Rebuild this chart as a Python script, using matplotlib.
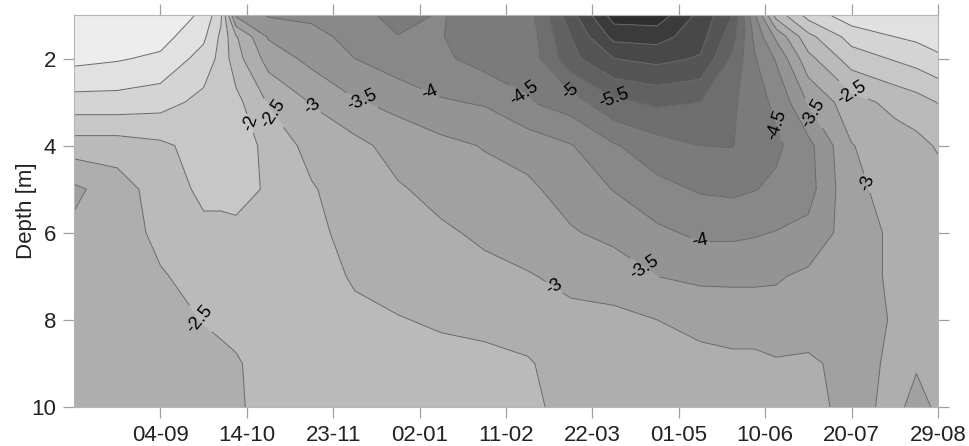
import matplotlib
matplotlib.use("Agg")
import matplotlib.pyplot as plt
import numpy as np
from matplotlib.colors import LinearSegmentedColormap

plt.rcParams['font.family'] = ['Liberation Sans', 'DejaVu Sans']

# days counted from 26-07 (first tick 04-09 = day 40)
days = [0, 20, 40, 60, 68, 75, 90, 110, 130, 150, 170, 190, 210,
        230, 250, 270, 290, 305, 315, 325, 340, 360, 380, 390, 400]
depths = [1, 1.5, 2, 3, 4, 5, 6, 7, 8, 9, 10]

# one profile per day, values at the depths above
profiles = [
    [-0.1, -0.2, -0.35, -1.2, -2.24, -3.1, -2.9, -2.85, -2.8, -2.8, -2.8],
    [-0.1, -0.2, -0.45, -1.2, -2.24, -2.75, -2.8, -2.8, -2.75, -2.75, -2.75],
    [-0.1, -0.3, -0.6, -1.3, -2.1, -2.25, -2.35, -2.55, -2.7, -2.75, -2.75],
    [-0.6, -0.9, -1.2, -1.65, -1.8, -1.9, -2.1, -2.3, -2.48, -2.65, -2.7],
    [-1.4, -1.6, -1.65, -1.7, -1.75, -1.9, -2.1, -2.25, -2.42, -2.6, -2.65],
    [-3.6, -2.45, -2.3, -1.85, -1.8, -1.85, -2.1, -2.2, -2.35, -2.55, -2.58],
    [-4.05, -3.55, -3.2, -2.55, -2.1, -2.05, -2.15, -2.25, -2.3, -2.3, -2.3],
    [-4.1, -3.85, -3.65, -3.03, -2.7, -2.45, -2.35, -2.3, -2.25, -2.2, -2.2],
    [-4.3, -4.15, -4.0, -3.45, -2.85, -2.8, -2.7, -2.55, -2.4, -2.3, -2.25],
    [-4.7, -4.48, -4.3, -3.65, -3.2, -2.95, -2.8, -2.65, -2.48, -2.35, -2.3],
    [-4.45, -4.48, -4.4, -3.95, -3.35, -3.15, -2.93, -2.75, -2.55, -2.38, -2.32],
    [-4.85, -4.75, -4.7, -4.05, -3.53, -3.3, -3.08, -2.88, -2.6, -2.4, -2.35],
    [-4.75, -4.7, -4.65, -4.47, -3.7, -3.4, -3.2, -2.97, -2.75, -2.45, -2.35],
    [-6.3, -6.0, -5.85, -4.75, -3.97, -3.72, -3.45, -3.1, -2.9, -2.75, -2.72],
    [-7.75, -7.15, -6.5, -5.4, -4.45, -4.02, -3.65, -3.2, -2.9, -2.75, -2.7],
    [-7.8, -7.2, -6.65, -5.6, -4.8, -4.35, -3.9, -3.5, -3.0, -2.8, -2.75],
    [-6.85, -6.7, -6.45, -5.5, -5.0, -4.55, -4.1, -3.6, -3.15, -2.85, -2.8],
    [-6.0, -5.7, -5.4, -5.1, -5.02, -4.6, -4.1, -3.6, -3.2, -2.9, -2.8],
    [-4.1, -4.4, -4.55, -4.65, -4.65, -4.52, -4.05, -3.6, -3.2, -2.9, -2.8],
    [-2.3, -3.4, -3.95, -4.42, -4.6, -4.4, -3.98, -3.55, -3.3, -2.95, -2.85],
    [-1.3, -2.15, -2.65, -3.45, -4.15, -4.2, -3.85, -3.4, -3.15, -2.95, -2.9],
    [-0.7, -1.3, -1.75, -2.7, -3.02, -3.1, -3.25, -3.2, -3.15, -3.1, -3.1],
    [-0.6, -1.0, -1.45, -2.35, -2.75, -2.85, -2.9, -2.92, -2.97, -2.95, -2.92],
    [-0.58, -0.9, -1.3, -2.2, -2.65, -2.8, -2.87, -2.9, -2.92, -2.97, -3.1],
    [-0.55, -0.75, -1.1, -1.98, -2.45, -2.7, -2.8, -2.85, -2.85, -2.9, -2.95],
]

tick_days = [40, 80, 120, 160, 200, 240, 280, 320, 360, 400]
tick_labels = ['04-09', '14-10', '23-11', '02-01', '11-02',
               '22-03', '01-05', '10-06', '20-07', '29-08']
depth_ticks = [2, 4, 6, 8, 10]
levels = np.arange(-8, 0.01, 0.5)

# where the contour labels sit (day, depth)
label_spots = [(79, 3.53), (93, 3.23), (111, 3.07), (133, 3.02), (165, 2.77),
               (207, 2.95), (228, 2.84), (250, 2.91), (325, 3.53), (341, 3.30),
               (358, 2.95), (365, 4.90), (290, 6.17), (264, 6.81), (223, 7.20),
               (58, 8.0)]

Z = np.array(profiles).T

greys = LinearSegmentedColormap.from_list('greys', ['#282828', '#f3f3f3'])

fig = plt.figure(figsize=(9.69, 4.46), dpi=100)
ax = fig.add_axes([74 / 969, 39 / 446, 864 / 969, 392 / 446])

ax.contourf(days, depths, Z, levels=levels, cmap=greys)
cs = ax.contour(days, depths, Z, levels=levels, colors='#686868',
                linewidths=0.7, negative_linestyles='solid')
ax.clabel(cs, manual=label_spots, fmt='%g', fontsize=13, colors='k',
          inline=True, inline_spacing=2)

ax.set_xlim(0, 400)
ax.set_ylim(10, 1)
ax.set_xticks(tick_days)
ax.set_xticklabels(tick_labels)
ax.set_yticks(depth_ticks)
ax.set_ylabel('Depth [m]', fontsize=16, color='#222222', labelpad=-4)

ax.tick_params(direction='out', length=8, width=0.9, color='#a0a0a0',
               top=True, right=True, labelsize=16, labelcolor='#222222', pad=5)
for s in ax.spines.values():
    s.set_color('#b5b5b5')
    s.set_linewidth(0.8)

fig.savefig('out.png', dpi=100)
